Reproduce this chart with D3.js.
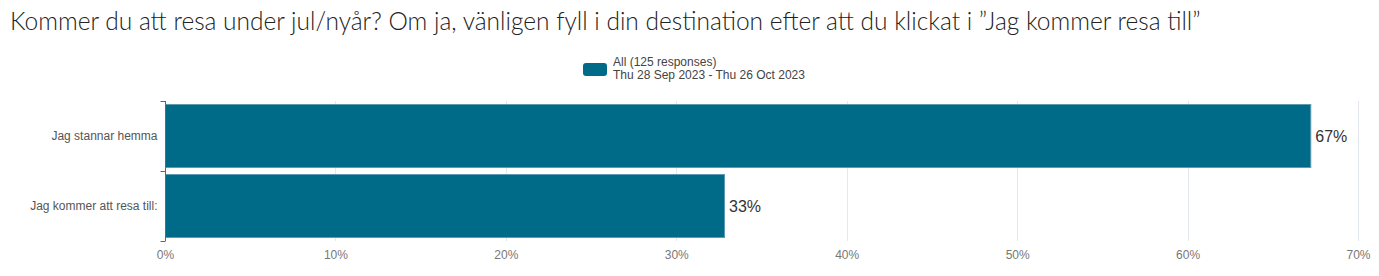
<!DOCTYPE html>
<html>
<head>
<meta charset="utf-8">
<script src="https://cdn.jsdelivr.net/npm/d3@7"></script>
<style>
  body { margin: 0; background: #fff; }
  #chart { width: 1379px; height: 276px; }
</style>
</head>
<body>
<div id="chart"></div>
<script>
// Survey answers and their share of all responses
const categories = ["Jag stannar hemma", "Jag kommer att resa till:"];
const shares = [67.2, 32.8];
const valueLabels = ["67%", "33%"];
const xTicks = [0, 10, 20, 30, 40, 50, 60, 70];
const legendLines = ["All (125 responses)", "Thu 28 Sep 2023 - Thu 26 Oct 2023"];
const titleText = "Kommer du att resa under jul/nyår? Om ja, vänligen fyll i din destination efter att du klickat i \u201dJag kommer resa till\u201d";

const W = 1379, H = 276;
const margin = { top: 101, right: 21, bottom: 35, left: 165 };
const width = W - margin.left - margin.right;
const height = H - margin.top - margin.bottom;
const barColor = "#006a89";

const svg = d3.select("#chart").append("svg")
  .attr("width", W)
  .attr("height", H);

// Title
svg.append("text")
  .attr("x", 10)
  .attr("y", 30)
  .style("font-family", "Lato, 'Open Sans', sans-serif")
  .style("font-weight", 300)
  .style("font-size", "24.5px")
  .attr("fill", "#222")
  .text(titleText);

// Legend
const legend = svg.append("g").attr("transform", "translate(583, 63)");
legend.append("rect")
  .attr("width", 24)
  .attr("height", 13)
  .attr("rx", 3)
  .attr("fill", barColor);
legend.selectAll("text")
  .data(legendLines)
  .enter()
  .append("text")
  .attr("x", 30)
  .attr("y", (d, i) => 3 + i * 13)
  .style("font-family", "'Liberation Sans', Arial, sans-serif")
  .style("font-size", "12px")
  .attr("fill", "#444")
  .text((d) => d);

const g = svg.append("g")
  .attr("transform", `translate(${margin.left}, ${margin.top})`);

const xScale = d3.scaleLinear().domain([0, 70]).range([0, width]);
const yScale = d3.scaleBand().domain(categories).range([0, height]).paddingInner(0.1).paddingOuter(0.05);

// Vertical grid lines
g.selectAll(".grid")
  .data(xTicks.slice(1))
  .enter()
  .append("line")
  .attr("x1", (d) => Math.round(xScale(d)) + 0.5)
  .attr("x2", (d) => Math.round(xScale(d)) + 0.5)
  .attr("y1", 0)
  .attr("y2", height)
  .attr("stroke", "#e3e8ef")
  .attr("stroke-width", 1);

// Bars
g.selectAll(".bar")
  .data(categories)
  .enter()
  .append("rect")
  .attr("class", "bar")
  .attr("x", 0.5)
  .attr("y", (d) => yScale(d))
  .attr("width", (d, i) => xScale(shares[i]))
  .attr("height", yScale.bandwidth())
  .attr("fill", barColor)
  .attr("stroke", "#5d9bb3")
  .attr("stroke-width", 1);

// Value labels
g.selectAll(".val")
  .data(categories)
  .enter()
  .append("text")
  .attr("x", (d, i) => xScale(shares[i]) + 5)
  .attr("y", (d) => yScale(d) + yScale.bandwidth() / 2 + 6)
  .style("font-family", "'Liberation Sans', Arial, sans-serif")
  .style("font-size", "16px")
  .attr("fill", "#333")
  .text((d, i) => valueLabels[i]);

// Y axis: line with ticks at band boundaries
const yAxisG = g.append("g").attr("transform", "translate(0.5, 0)");
yAxisG.append("line")
  .attr("y1", 0).attr("y2", height)
  .attr("stroke", "#666");
const bounds = [0].concat(categories.map((d, i) => i < categories.length - 1 ? (yScale(d) + yScale.bandwidth() + yScale(categories[i + 1])) / 2 : height));
yAxisG.selectAll(".yt")
  .data(bounds)
  .enter()
  .append("line")
  .attr("x1", -5).attr("x2", 0)
  .attr("y1", (d) => Math.round(d) + 0.5)
  .attr("y2", (d) => Math.round(d) + 0.5)
  .attr("stroke", "#666");
yAxisG.selectAll(".ylab")
  .data(categories)
  .enter()
  .append("text")
  .attr("x", -8)
  .attr("y", (d) => yScale(d) + yScale.bandwidth() / 2 + 4)
  .attr("text-anchor", "end")
  .style("font-family", "'Liberation Sans', Arial, sans-serif")
  .style("font-size", "12px")
  .attr("fill", "#555")
  .text((d) => d);

// X axis tick labels
g.append("g")
  .attr("transform", `translate(0, ${height})`)
  .call(d3.axisBottom(xScale).tickValues(xTicks).tickSize(0).tickPadding(9).tickFormat((d) => d + "%"))
  .call((a) => a.select(".domain").remove())
  .call((a) => a.selectAll("text")
    .style("font-family", "'Liberation Sans', Arial, sans-serif")
    .style("font-size", "12px")
    .attr("fill", "#777"));
</script>
</body>
</html>
